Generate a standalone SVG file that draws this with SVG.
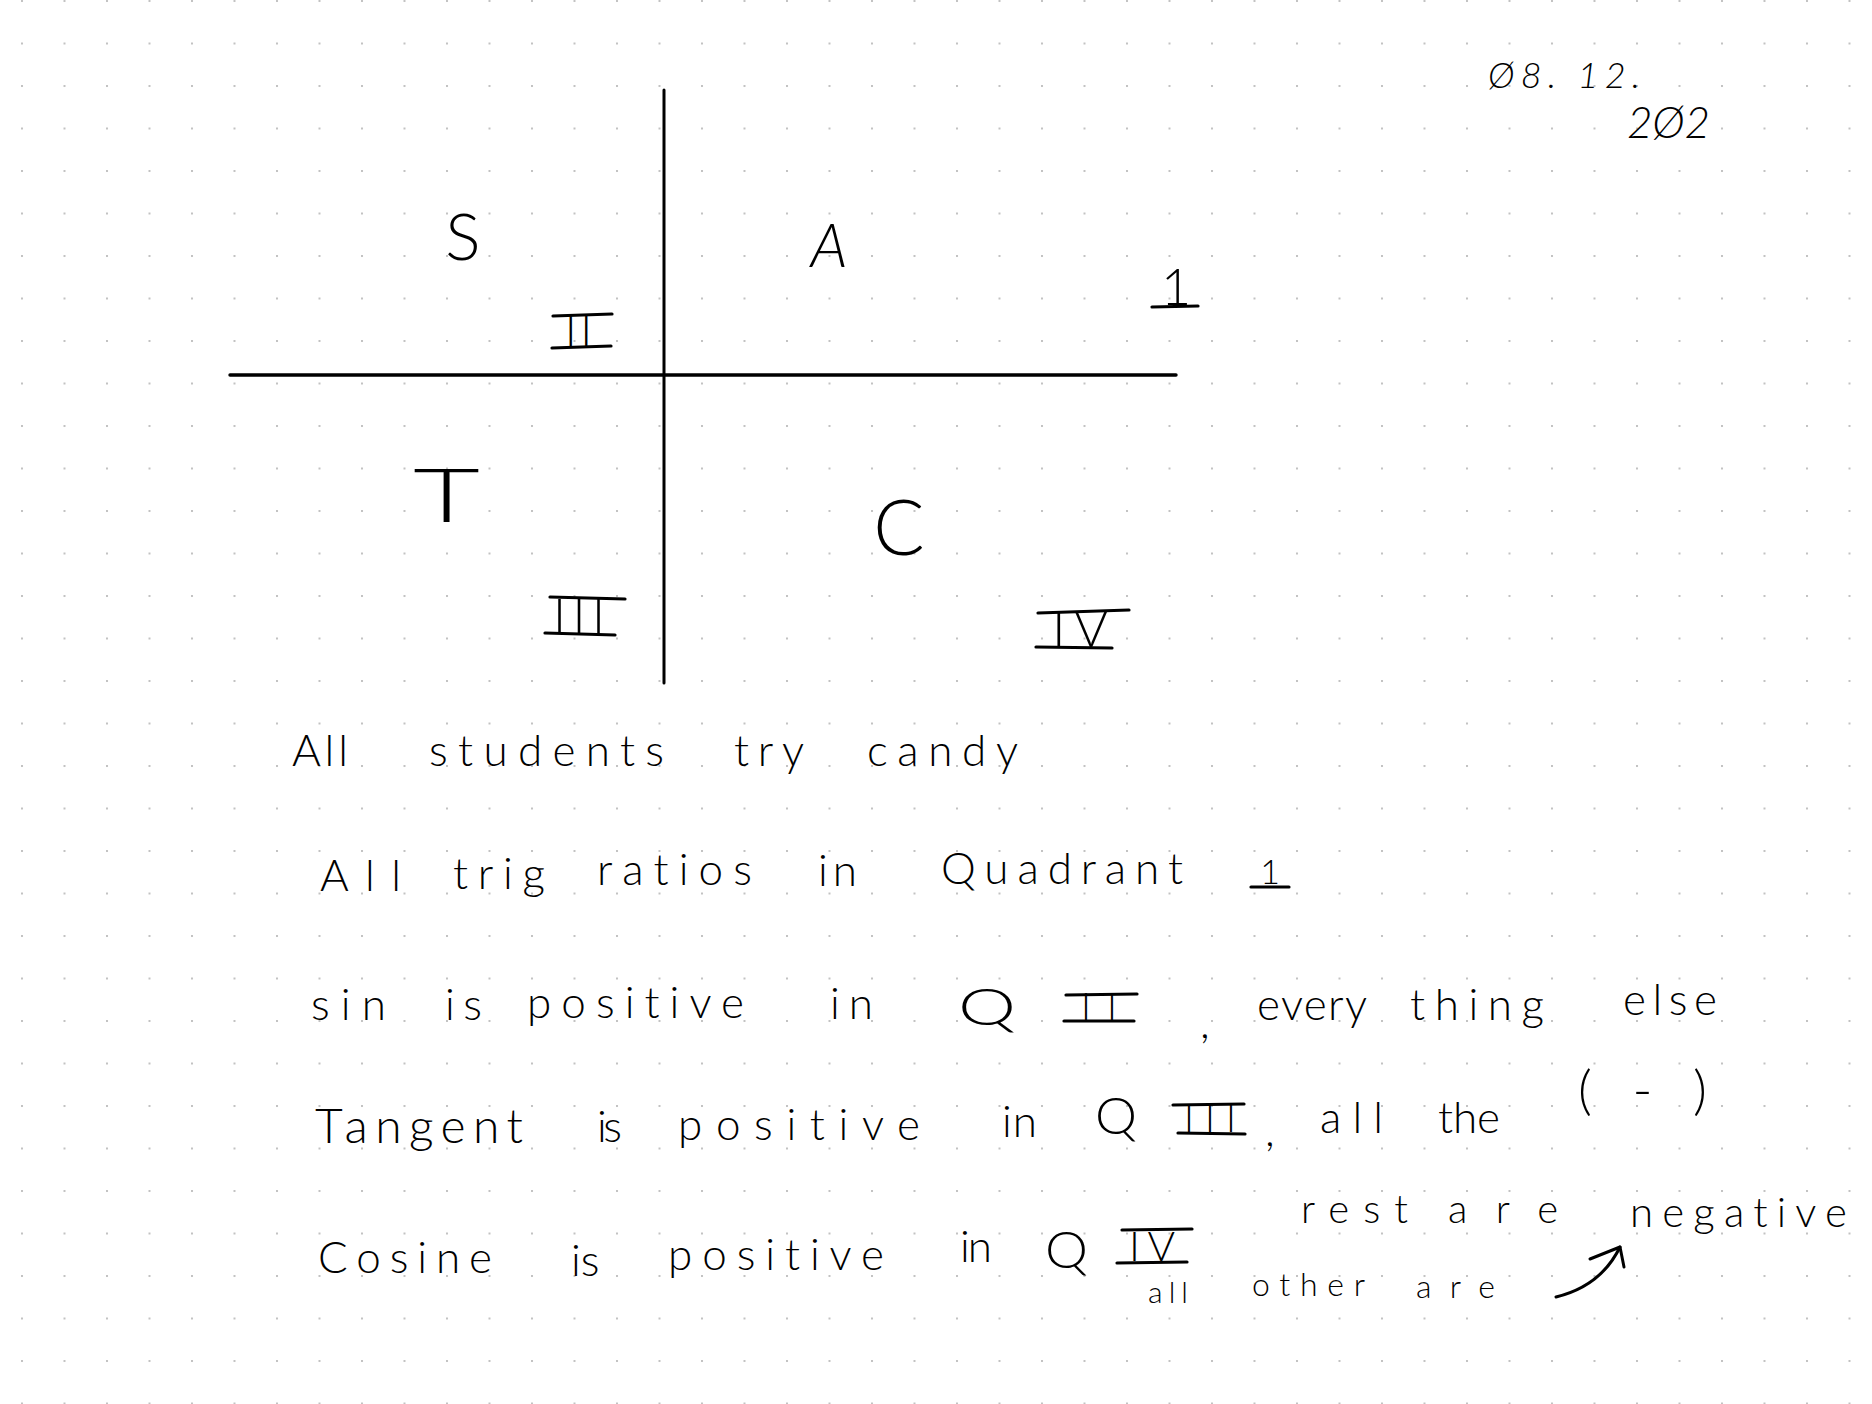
<svg xmlns="http://www.w3.org/2000/svg" width="1872" height="1404" viewBox="0 0 1872 1404">
  <defs>
    <pattern id="dots" x="21" y="0" width="42.5" height="42.5" patternUnits="userSpaceOnUse">
      <rect x="0" y="0" width="2" height="2" fill="#c2c2c2"/>
    </pattern>
    <style>
      text { font-variant-ligatures: none; }
      .hw { font-family: "Lato", "Liberation Sans", sans-serif; font-weight: 300; fill: #000; }
      .dt { font-family: "Lato", "Liberation Sans", sans-serif; font-weight: 300; font-style: italic; fill: #000; }
      .ink { stroke: #000; stroke-linecap: round; fill: none; }
      .bar { stroke: #000; stroke-linecap: round; stroke-width: 3.2; fill: none; }
      .b44 { font-size: 44px; }
    </style>
  </defs>

  <rect width="1872" height="1404" fill="#ffffff"/>
  <rect width="1872" height="1404" fill="url(#dots)"/>

  <!-- date -->
  <g id="date">
    <text class="dt" x="1488" y="88" font-size="36" textLength="152" lengthAdjust="spacing">Ø8. 12.</text>
    <text class="dt" x="1627" y="138" font-size="44" textLength="83" lengthAdjust="spacing">2Ø2</text>
  </g>

  <!-- axes -->
  <g id="axes">
    <line class="ink" x1="664" y1="90" x2="664" y2="683" stroke-width="3"/>
    <line class="ink" x1="230" y1="375" x2="1176" y2="375" stroke-width="3.4"/>
  </g>

  <!-- quadrant labels -->
  <g id="quadrants" class="hw">
    <text x="463" y="260" font-size="66" text-anchor="middle">S</text>
    <text x="829" y="267" font-size="61" text-anchor="middle" font-style="italic">A</text>
    <text x="413" y="522" font-size="75" textLength="67" lengthAdjust="spacingAndGlyphs">T</text>
    <text x="899" y="555" font-size="76" text-anchor="middle">C</text>
    <text x="1176" y="305" font-size="52" text-anchor="middle">1</text>
    <line class="bar" x1="1152" y1="307" x2="1198" y2="306"/>

    <g id="q2-numeral">
      <text x="565" y="346" font-size="44" textLength="27" lengthAdjust="spacing">II</text>
      <line class="bar" x1="553" y1="316" x2="612" y2="314"/>
      <line class="bar" x1="552" y1="348" x2="611" y2="346"/>
    </g>
    <g id="q3-numeral">
      <text x="553" y="634" font-size="50" textLength="52" lengthAdjust="spacing">III</text>
      <line class="bar" x1="550" y1="597" x2="625" y2="599"/>
      <line class="bar" x1="545" y1="633" x2="615" y2="635"/>
    </g>
    <g id="q4-numeral">
      <text x="1052" y="647" font-size="52" textLength="56" lengthAdjust="spacing">IV</text>
      <line class="bar" x1="1038" y1="613" x2="1129" y2="610"/>
      <line class="bar" x1="1036" y1="647" x2="1112" y2="648"/>
    </g>
  </g>

  <!-- line 1 -->
  <g id="line1" class="hw b44">
    <text x="292" y="766" textLength="56" lengthAdjust="spacing">All</text>
    <text x="429" y="766" textLength="235" lengthAdjust="spacing">students</text>
    <text x="734" y="766" textLength="70" lengthAdjust="spacing">try</text>
    <text x="867" y="766" textLength="151" lengthAdjust="spacing">candy</text>
  </g>

  <!-- line 2 -->
  <g id="line2" class="hw b44">
    <text x="320" y="891" textLength="81" lengthAdjust="spacing">All</text>
    <text x="453" y="889" textLength="92" lengthAdjust="spacing">trig</text>
    <text x="597" y="885" textLength="155" lengthAdjust="spacing">ratios</text>
    <text x="818" y="886" textLength="39" lengthAdjust="spacing">in</text>
    <text x="941" y="884" textLength="242" lengthAdjust="spacing">Quadrant</text>
    <text x="1270" y="884" font-size="34" text-anchor="middle">1</text>
    <line class="bar" x1="1251" y1="887" x2="1289" y2="887"/>
  </g>

  <!-- line 3 -->
  <g id="line3" class="hw b44">
    <text x="311" y="1020" textLength="75" lengthAdjust="spacing">sin</text>
    <text x="445" y="1020" textLength="37" lengthAdjust="spacing">is</text>
    <text x="527" y="1018" textLength="217" lengthAdjust="spacing">positive</text>
    <text x="830" y="1019" textLength="43" lengthAdjust="spacing">in</text>
    <text x="958" y="1025" font-size="52" textLength="58" lengthAdjust="spacingAndGlyphs">Q</text>
    <g id="l3-numeral">
      <text x="1081" y="1020" font-size="38" textLength="36" lengthAdjust="spacing">II</text>
      <line class="bar" x1="1066" y1="995" x2="1137" y2="994"/>
      <line class="bar" x1="1064" y1="1021" x2="1134" y2="1021"/>
    </g>
    <text x="1200" y="1038">,</text>
    <text x="1257" y="1020" textLength="110" lengthAdjust="spacing">every</text>
    <text x="1410" y="1020" textLength="134" lengthAdjust="spacing">thing</text>
    <text x="1623" y="1015" textLength="94" lengthAdjust="spacing">else</text>
  </g>

  <!-- line 4 -->
  <g id="line4" class="hw b44">
    <text x="315" y="1143" font-size="48" textLength="208" lengthAdjust="spacing">Tangent</text>
    <text x="597" y="1142" textLength="25" lengthAdjust="spacing">is</text>
    <text x="678" y="1140" textLength="242" lengthAdjust="spacing">positive</text>
    <text x="1002" y="1137" textLength="35" lengthAdjust="spacing">in</text>
    <text x="1095" y="1134" font-size="52" textLength="42" lengthAdjust="spacingAndGlyphs">Q</text>
    <g id="l4-numeral">
      <text x="1184" y="1132" font-size="38" textLength="52" lengthAdjust="spacing">III</text>
      <line class="bar" x1="1173" y1="1105" x2="1244" y2="1104"/>
      <line class="bar" x1="1178" y1="1133" x2="1245" y2="1134"/>
    </g>
    <text x="1265" y="1146">,</text>
    <text x="1320" y="1133" textLength="63" lengthAdjust="spacing">all</text>
    <text x="1438" y="1133" textLength="62" lengthAdjust="spacing">the</text>
    <text x="1578" y="1109" font-size="54" textLength="129" lengthAdjust="spacing">(-)</text>
  </g>

  <!-- line 5 -->
  <g id="line5" class="hw b44">
    <text x="318" y="1273" textLength="174" lengthAdjust="spacing">Cosine</text>
    <text x="571" y="1276">is</text>
    <text x="668" y="1270" textLength="216" lengthAdjust="spacing">positive</text>
    <text x="960" y="1262" textLength="32" lengthAdjust="spacing">in</text>
    <text x="1045" y="1268" font-size="52" textLength="43" lengthAdjust="spacingAndGlyphs">Q</text>
    <g id="l5-numeral">
      <text x="1129" y="1261" font-size="42" textLength="46" lengthAdjust="spacing">IV</text>
      <line class="bar" x1="1122" y1="1230" x2="1192" y2="1229"/>
      <line class="bar" x1="1117" y1="1263" x2="1187" y2="1262"/>
    </g>
  </g>

  <!-- side note -->
  <g id="note" class="hw">
    <text x="1301" y="1223" font-size="40" textLength="107" lengthAdjust="spacing">rest</text>
    <text x="1448" y="1223" font-size="40" textLength="110" lengthAdjust="spacing">are</text>
    <text x="1630" y="1227" font-size="42" textLength="217" lengthAdjust="spacing">negative</text>
    <text x="1148" y="1303" font-size="30" textLength="40" lengthAdjust="spacing">all</text>
    <text x="1252" y="1296" font-size="32" textLength="113" lengthAdjust="spacing">other</text>
    <text x="1416" y="1298" font-size="32" textLength="79" lengthAdjust="spacing">are</text>
  </g>

  <!-- arrow -->
  <g id="connectors">
    <path class="ink" d="M1556,1297 Q1601,1286 1620,1247" stroke-width="3"/>
    <path class="ink" d="M1590,1259 L1620,1247 L1624,1267" stroke-width="3" stroke-linejoin="round"/>
  </g>
</svg>
